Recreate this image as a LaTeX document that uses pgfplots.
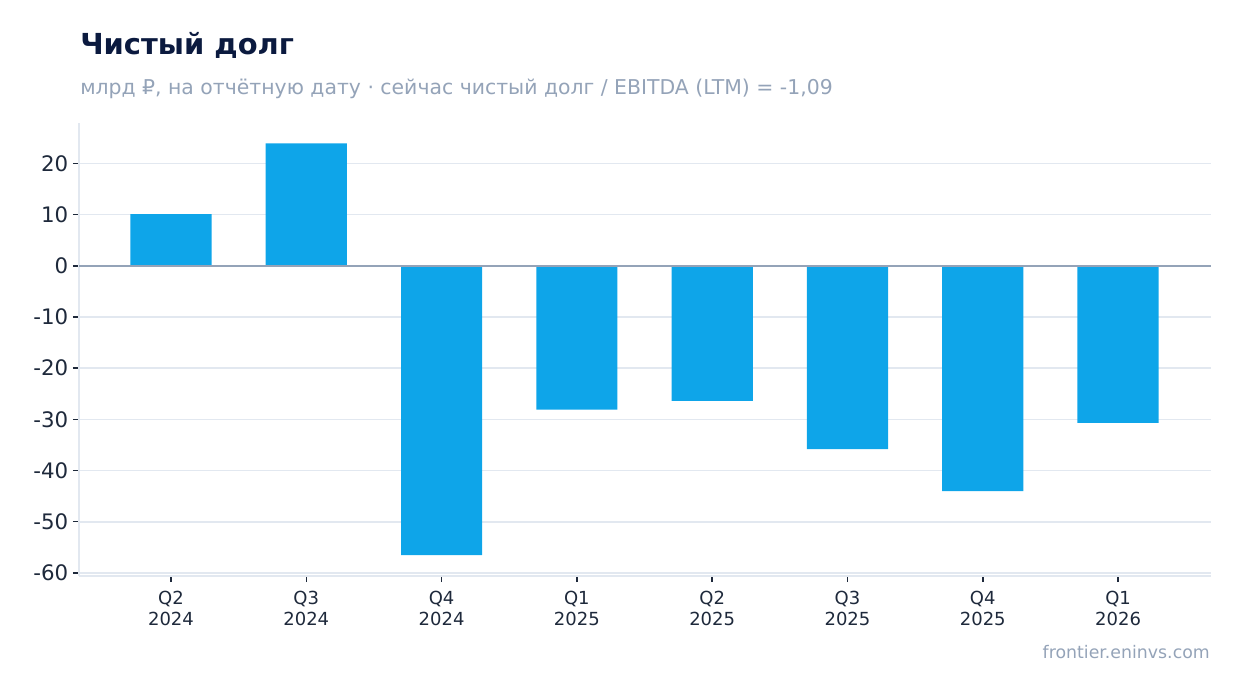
\documentclass[border=0pt]{standalone}
\usepackage{fontspec}
\setmainfont{DejaVu Sans}
\usepackage{pgfplots}
\pgfplotsset{compat=1.18}
\definecolor{barc}{HTML}{0EA5E9}
\definecolor{titlec}{HTML}{0B1A3F}
\definecolor{subc}{HTML}{94A3B8}
\definecolor{gridc}{HTML}{E2E8F0}
\definecolor{tickc}{HTML}{1E293B}
\definecolor{zeroc}{HTML}{94A3B8}
\begin{document}
\begin{tikzpicture}
\path[use as bounding box] (0,0) rectangle (930.75pt,-519.75pt);
\node[anchor=base west, inner sep=0pt, font=\fontsize{21.7}{26}\selectfont\bfseries, text=titlec] at (60pt,-40.5pt) {Чистый долг};
\node[anchor=base west, inner sep=0pt, font=\fontsize{15.3}{18}\selectfont, text=subc] at (60pt,-70.5pt) {млрд ₽, на отчётную дату · сейчас чистый долг / EBITDA (LTM) = -1,09};
\node[anchor=base east, inner sep=0pt, font=\fontsize{13}{16}\selectfont, text=subc] at (907.5pt,-493.5pt) {frontier.eninvs.com};
\begin{axis}[
  at={(59.25pt,-432pt)}, anchor=south west,
  scale only axis, width=849pt, height=339.75pt,
  xmin=-0.68, xmax=7.687, ymin=-60.6, ymax=27.9,
  axis x line*=bottom, axis y line*=left,
  axis line style={draw=gridc, line width=1.5pt, -},
  ybar, bar width=0.6,
  xtick={0,1,2,3,4,5,6,7},
  xticklabels={{Q2\\2024},{Q3\\2024},{Q4\\2024},{Q1\\2025},{Q2\\2025},{Q3\\2025},{Q4\\2025},{Q1\\2026}},
  ytick={-60,-50,-40,-30,-20,-10,0,10,20},
  yticklabels={-60,-50,-40,-30,-20,-10,0,10,20},
  tick align=outside, major tick length=4.5pt,
  tick style={draw=tickc, line width=1.1pt},
  ymajorgrids, major grid style={draw=gridc, line width=1.3pt},
  yticklabel style={font=\fontsize{16}{19}\selectfont, text=tickc},
  xticklabel style={font=\fontsize{13.5}{15.75}\selectfont, text=tickc, align=center, yshift=-3pt},
  /pgf/number format/assume math mode=true,
]
\addplot[fill=barc, draw=none] coordinates {(0,10.1) (1,23.9) (2,-56.5) (3,-28.1) (4,-26.4) (5,-35.8) (6,-44.0) (7,-30.7)};
\addplot[ybar=0pt, sharp plot, draw=zeroc, line width=1.5pt] coordinates {(-0.68,0) (7.687,0)};
\end{axis}
\end{tikzpicture}
\end{document}
